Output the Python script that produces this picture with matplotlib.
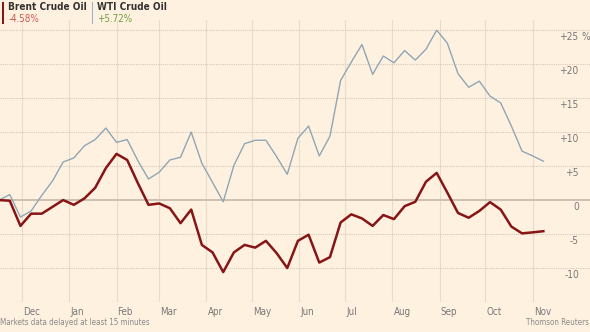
import pandas as pd
import matplotlib
matplotlib.use("Agg")
import matplotlib.pyplot as plt
import matplotlib.transforms as mtransforms
from matplotlib.patches import Rectangle

plt.rcParams['font.family'] = ['DejaVu Sans']
plt.rcParams['font.stretch'] = 'condensed'

# weekly % change since start
dates = pd.date_range("2012-11-16", periods=52, freq="7D")
brent = [0.0, -0.1, -3.8, -2.0, -2.0, -1.0, 0.0, -0.7, 0.25, 1.8,
         4.7, 6.8, 5.9, 2.5, -0.7, -0.5, -1.2, -3.4, -1.4, -6.6,
         -7.7, -10.6, -7.7, -6.6, -7.0, -6.0, -7.8, -10.0, -6.0, -5.1,
         -9.2, -8.4, -3.3, -2.1, -2.7, -3.8, -2.2, -2.8, -0.9, -0.25,
         2.7, 4.0, 1.1, -1.9, -2.6, -1.6, -0.3, -1.4, -3.9, -4.9,
         -4.75, -4.58]
wti = [0.0, 0.8, -2.5, -1.6, 0.7, 2.8, 5.6, 6.2, 8.0, 8.9,
       10.6, 8.5, 8.9, 5.8, 3.1, 4.1, 5.9, 6.3, 10.0, 5.4,
       2.6, -0.25, 5.1, 8.3, 8.8, 8.8, 6.4, 3.8, 9.1, 10.9,
       6.5, 9.4, 17.6, 20.3, 22.9, 18.5, 21.2, 20.2, 22.0, 20.6,
       22.2, 25.0, 23.1, 18.6, 16.6, 17.5, 15.3, 14.3, 10.9, 7.2,
       6.5, 5.72]
month_starts = pd.date_range("2012-12-01", "2013-11-01", freq="MS")
month_labels = ["Dec", "Jan", "Feb", "Mar", "Apr", "May", "Jun", "Jul",
                "Aug", "Sep", "Oct", "Nov"]
y_grid = [-15, -10, -5, 0, 5, 10, 15, 20, 25]
y_labels = {-10: "-10", -5: "-5", 0: "0", 5: "+5", 10: "+10",
            15: "+15", 20: "+20", 25: "+25"}

bg = "#fff1e0"
fig = plt.figure(figsize=(5.9, 3.32), dpi=100, facecolor=bg)
ax = fig.add_axes([0, 30 / 332, 1, 282 / 332], facecolor=bg)

x0 = pd.Timestamp("2012-11-16 14:00")
ax.set_xlim(x0, x0 + pd.Timedelta(days=387))
ax.set_ylim(-15, 26.5)

for s in ax.spines.values():
    s.set_visible(False)

# month grid
for d in month_starts:
    ax.axvline(d, color="#eadccb", lw=0.8, zorder=0)
for v in y_grid:
    if v == 0:
        ax.axhline(v, color="#c9bcae", lw=1.3, zorder=1)
    else:
        ax.axhline(v, color="#d6c9bb", lw=0.8, ls=(0, (1, 1)), zorder=1)

ax.plot(dates, wti, color="#8fa6b6", lw=1.0, zorder=3)
ax.plot(dates, brent, color="#861616", lw=1.8, zorder=4)

ax.set_xticks(month_starts)
ax.set_xticklabels(month_labels)
ax.set_yticks([])
ax.tick_params(axis="x", length=0, pad=3.5, labelsize=7, labelcolor="#777777")
off = mtransforms.ScaledTranslation(1 / 100, 0, fig.dpi_scale_trans)
for lab in ax.get_xticklabels():
    lab.set_horizontalalignment("left")
    lab.set_transform(lab.get_transform() + off)

# y labels inside the plot, right side, just under each gridline
tr = mtransforms.blended_transform_factory(ax.transAxes, ax.transData)
down = mtransforms.ScaledTranslation(0, -2 / 100, fig.dpi_scale_trans)
for v, t in y_labels.items():
    ax.text(579 / 590, v, t, transform=tr + down, ha="right", va="top",
            fontsize=7.3, color="#777777")
ax.text(581 / 590, 25, "%", transform=tr + down, ha="left", va="top",
        fontsize=7.3, color="#777777")

# header
fig.add_artist(Rectangle((1.5 / 590, 308 / 332), 2.5 / 590, 22 / 332,
                         transform=fig.transFigure, color="#861616", lw=0))
fig.add_artist(Rectangle((91.5 / 590, 308 / 332), 1.5 / 590, 22 / 332,
                         transform=fig.transFigure, color="#8db4d4", lw=0))
fig.text(8 / 590, 1 - 2 / 332, "Brent Crude Oil", ha="left", va="top",
         fontsize=7.2, fontweight="bold", color="#333333")
fig.text(9 / 590, 1 - 14 / 332, "-4.58%", ha="left", va="top",
         fontsize=7, color="#d0574f")
fig.text(97 / 590, 1 - 2 / 332, "WTI Crude Oil", ha="left", va="top",
         fontsize=7.2, fontweight="bold", color="#333333")
fig.text(97 / 590, 1 - 14 / 332, "+5.72%", ha="left", va="top",
         fontsize=7, color="#6e9e3e")

# footer
fig.text(0.5 / 590, 1 - 318 / 332, "Markets data delayed at least 15 minutes",
         ha="left", va="top", fontsize=5.8, color="#8a8a8a")
fig.text(589 / 590, 1 - 318 / 332, "Thomson Reuters",
         ha="right", va="top", fontsize=5.8, color="#8a8a8a")

fig.savefig("out.png", dpi=100, facecolor=bg)
